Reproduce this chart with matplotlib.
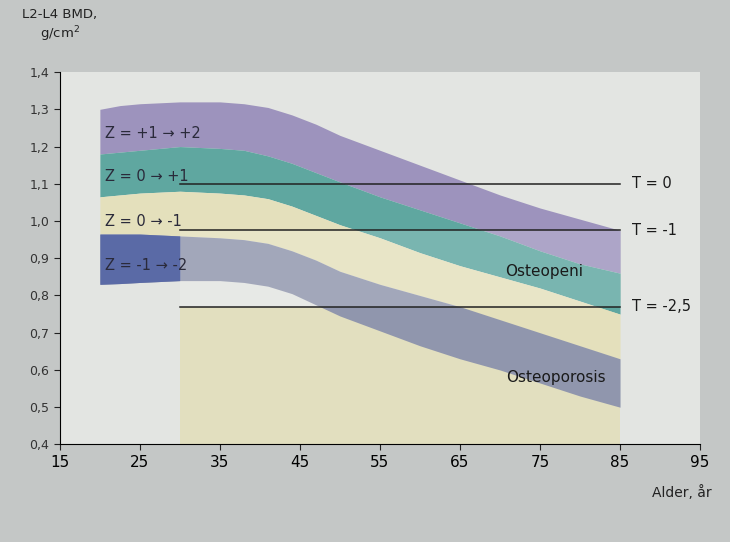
import matplotlib.pyplot as plt

# Age (years) and Z-score curves for L2-L4 BMD (g/cm2)
ages = [20, 22.5, 25, 30, 35, 38, 41, 44, 47, 50, 55, 60, 65, 70, 75, 80, 85]
z_plus2 = [1.30, 1.31, 1.315, 1.32, 1.32, 1.315, 1.305, 1.285, 1.26, 1.23, 1.19, 1.15, 1.11, 1.07, 1.035, 1.005, 0.975]
z_plus1 = [1.18, 1.185, 1.19, 1.20, 1.195, 1.19, 1.175, 1.155, 1.13, 1.105, 1.065, 1.03, 0.995, 0.96, 0.92, 0.885, 0.86]
z_zero = [1.065, 1.07, 1.075, 1.08, 1.075, 1.07, 1.06, 1.04, 1.015, 0.99, 0.955, 0.915, 0.88, 0.85, 0.82, 0.785, 0.75]
z_minus1 = [0.965, 0.965, 0.965, 0.96, 0.955, 0.95, 0.94, 0.92, 0.895, 0.865, 0.83, 0.80, 0.77, 0.735, 0.70, 0.665, 0.63]
z_minus2 = [0.83, 0.832, 0.835, 0.84, 0.84, 0.835, 0.825, 0.805, 0.775, 0.745, 0.705, 0.665, 0.63, 0.60, 0.565, 0.53, 0.50]

# T-score reference lines
t_labels = ['T = 0', 'T = -1', 'T = -2,5']
t_values = [1.10, 0.975, 0.77]
t_start, t_end = 30, 85

band_labels = ['Z = +1 \u2192 +2', 'Z = 0 \u2192 +1', 'Z = 0 \u2192 -1', 'Z = -1 \u2192 -2']
band_label_y = [1.235, 1.12, 1.0, 0.88]

x_ticks = [15, 25, 35, 45, 55, 65, 75, 85, 95]
y_ticks = [0.4, 0.5, 0.6, 0.7, 0.8, 0.9, 1.0, 1.1, 1.2, 1.3, 1.4]
y_tick_labels = ['0,4', '0,5', '0,6', '0,7', '0,8', '0,9', '1,0', '1,1', '1,2', '1,3', '1,4']

fig = plt.figure(figsize=(7.3, 5.42), dpi=100, facecolor='#c4c7c6')
ax = fig.add_axes([0.082, 0.18, 0.877, 0.687])
ax.set_facecolor('#e3e5e2')

# yellowish area below the T=-2,5 line
ax.fill_between([t_start, t_end], 0.4, t_values[2], color='#e2dfbf', lw=0, zorder=1)

# Z-score bands
ax.fill_between(ages, z_plus1, z_plus2, color='#9d93bd', lw=0, zorder=2)
ax.fill_between(ages, z_zero, z_plus1, color='#5fa7a0', lw=0, zorder=2)
ax.fill_between(ages, z_minus1, z_zero, color='#e4e0bc', lw=0, zorder=2)
ax.fill_between(ages, z_minus2, z_minus1, color='#9096ad', lw=0, zorder=2)

# blue box behind the lowest label
n = len([a for a in ages if a <= t_start])
ax.fill_between(ages[:n], z_minus2[:n], z_minus1[:n], color='#5a6aa6', lw=0, zorder=3)

# lighter osteopenia zone between T=-1 and T=-2,5
ax.fill_between([t_start, t_end], t_values[2], t_values[1], color='white', alpha=0.17, lw=0, zorder=3)

for lab, v in zip(t_labels, t_values):
    ax.plot([t_start, t_end], [v, v], color='#222222', lw=1.1, zorder=4)
    ax.text(86.5, v, lab, fontsize=10.5, va='center', ha='left', color='#1a1a1a')

for lab, yv in zip(band_labels, band_label_y):
    ax.text(20.6, yv, lab, fontsize=10.5, va='center', ha='left', color='#2a2a3a', zorder=5)

ax.text(75.5, 0.865, 'Osteopeni', fontsize=11, ha='center', va='center', color='#1a1a1a', zorder=5)
ax.text(77, 0.58, 'Osteoporosis', fontsize=11, ha='center', va='center', color='#1a1a1a', zorder=5)

ax.set_xlim(15, 95)
ax.set_ylim(0.4, 1.4)
ax.set_xticks(x_ticks)
ax.set_xticklabels([str(t) for t in x_ticks], fontsize=11)
ax.set_yticks(y_ticks)
ax.set_yticklabels(y_tick_labels, fontsize=9, color='#333333')
ax.spines['top'].set_visible(False)
ax.spines['right'].set_visible(False)
ax.tick_params(direction='out', length=4, color='#222222')

fig.text(0.082, 0.985, 'L2-L4 BMD,\ng/cm$^2$', fontsize=9.5, ha='center', va='top', color='#222222')
fig.text(0.975, 0.105, 'Alder, år', fontsize=10, ha='right', va='top', color='#222222')

fig.savefig('out.png', dpi=100, facecolor=fig.get_facecolor())
